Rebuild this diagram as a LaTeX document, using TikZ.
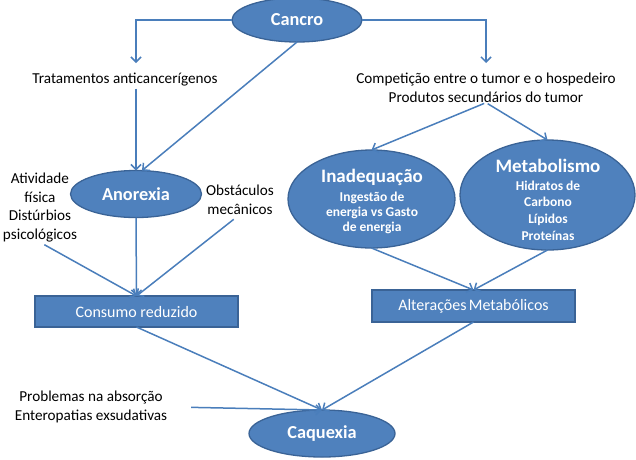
\documentclass[tikz,border=0pt]{standalone}
\usepackage{fontspec}
\setmainfont{Carlito}
\usetikzlibrary{arrows.meta,shapes.geometric}
\definecolor{fillblue}{HTML}{4F81BD}
\definecolor{edgeblue}{HTML}{3A6396}
\definecolor{lineblue}{HTML}{4A7EBB}
\begin{document}
\begin{tikzpicture}[x=1pt,y=-1pt,
  every node/.style={inner sep=0pt, outer sep=0pt},
  lbl/.style={font=\fontsize{15.2}{18.7}\selectfont, align=center},
  ell/.style={ellipse, draw=edgeblue, fill=fillblue, line width=1.3pt, text=white,
    font=\bfseries\fontsize{18.3}{20}\selectfont},
  elltxt/.style={text=white, align=center, font=\bfseries\fontsize{13.5}{15}\selectfont},
  bx/.style={rectangle, draw=edgeblue, fill=fillblue, line width=1.3pt, text=white,
    font=\fontsize{16}{19}\selectfont},
  conn/.style={draw=lineblue, line width=1.5pt},
  arr/.style={conn, -{Straight Barb[length=5pt,width=10pt]}}
]
\useasboundingbox (0,0) rectangle (636,459);

% nodes
\node[ell, minimum width=130pt, minimum height=44pt] (cancro) at (297,20) {Cancro};
\node[lbl, anchor=north] (trat) at (125,73) {Tratamentos anticancerígenos};
\node[lbl, anchor=north, font=\fontsize{15.2}{19}\selectfont] (comp) at (486,73)
  {Competição entre o tumor e o hospedeiro\\Produtos secundários do tumor};
\node[ell, minimum width=131pt, minimum height=47pt] (anor) at (136,194) {Anorexia};
\node[lbl, anchor=north] (ativ) at (40,173) {Atividade\\física\\Distúrbios\\psicológicos};
\node[lbl, anchor=north] (obst) at (240,185) {Obstáculos\\mecânicos};
\node[bx, minimum width=203pt, minimum height=31pt] (cons) at (136.5,311.5) {Consumo reduzido};

\node[ell, minimum width=167pt, minimum height=98pt] (inad) at (371.5,199) {};
\node[elltxt, anchor=north] (inadt) at (372,169)
  {{\fontsize{19}{19}\selectfont Inadequação}\\[4pt]Ingestão de\\energia vs Gasto\\de energia};
\node[ell, minimum width=175pt, minimum height=110pt] (metab) at (547.5,195) {};
\node[elltxt, anchor=north, font=\bfseries\fontsize{13.5}{16.7}\selectfont] (metabt) at (548,159)
  {{\fontsize{19}{19}\selectfont Metabolismo}\\[1pt]Hidratos de\\Carbono\\Lípidos\\Proteínas};
\node[bx, minimum width=203pt, minimum height=32pt] (alter) at (473.5,306)
  {Alterações\hspace{0.14em}Metabólicos};

\node[lbl, anchor=north] (prob) at (91,391) {Problemas na absorção\\Enteropatias exsudativas};
\node[ell, minimum width=146pt, minimum height=47pt] (caq) at (322,433.5) {Caquexia};

% connectors
\draw[arr, shorten >=10pt] (cancro.west) -| (anor.north |- trat.north);
\draw[arr, shorten <=2.5pt] (trat.south -| anor.north) -- (anor.north);
\draw[arr] (cancro.south) -- ([xshift=6pt]anor.north);
\draw[arr, shorten >=10pt] (cancro.east) -| (comp.north);
\draw[arr, shorten <=2pt] (comp.south) -- (inad.north);
\draw[arr, shorten <=2pt] (comp.south) -- (metab.north);
\draw[arr, shorten <=5pt] (ativ.south) -- (cons.north);
\draw[arr] (anor.south) -- (cons.north);
\draw[arr, shorten <=8pt] (obst.south) -- (cons.north);
\draw[arr] (inad.south) -- (alter.north);
\draw[arr] (metab.south) -- (alter.north);
\draw[arr] (cons.south) -- (caq.north);
\draw[arr] (alter.south) -- (caq.north);
\draw[arr, shorten <=24pt] (prob.east) -- (caq.north);
\end{tikzpicture}
\end{document}
